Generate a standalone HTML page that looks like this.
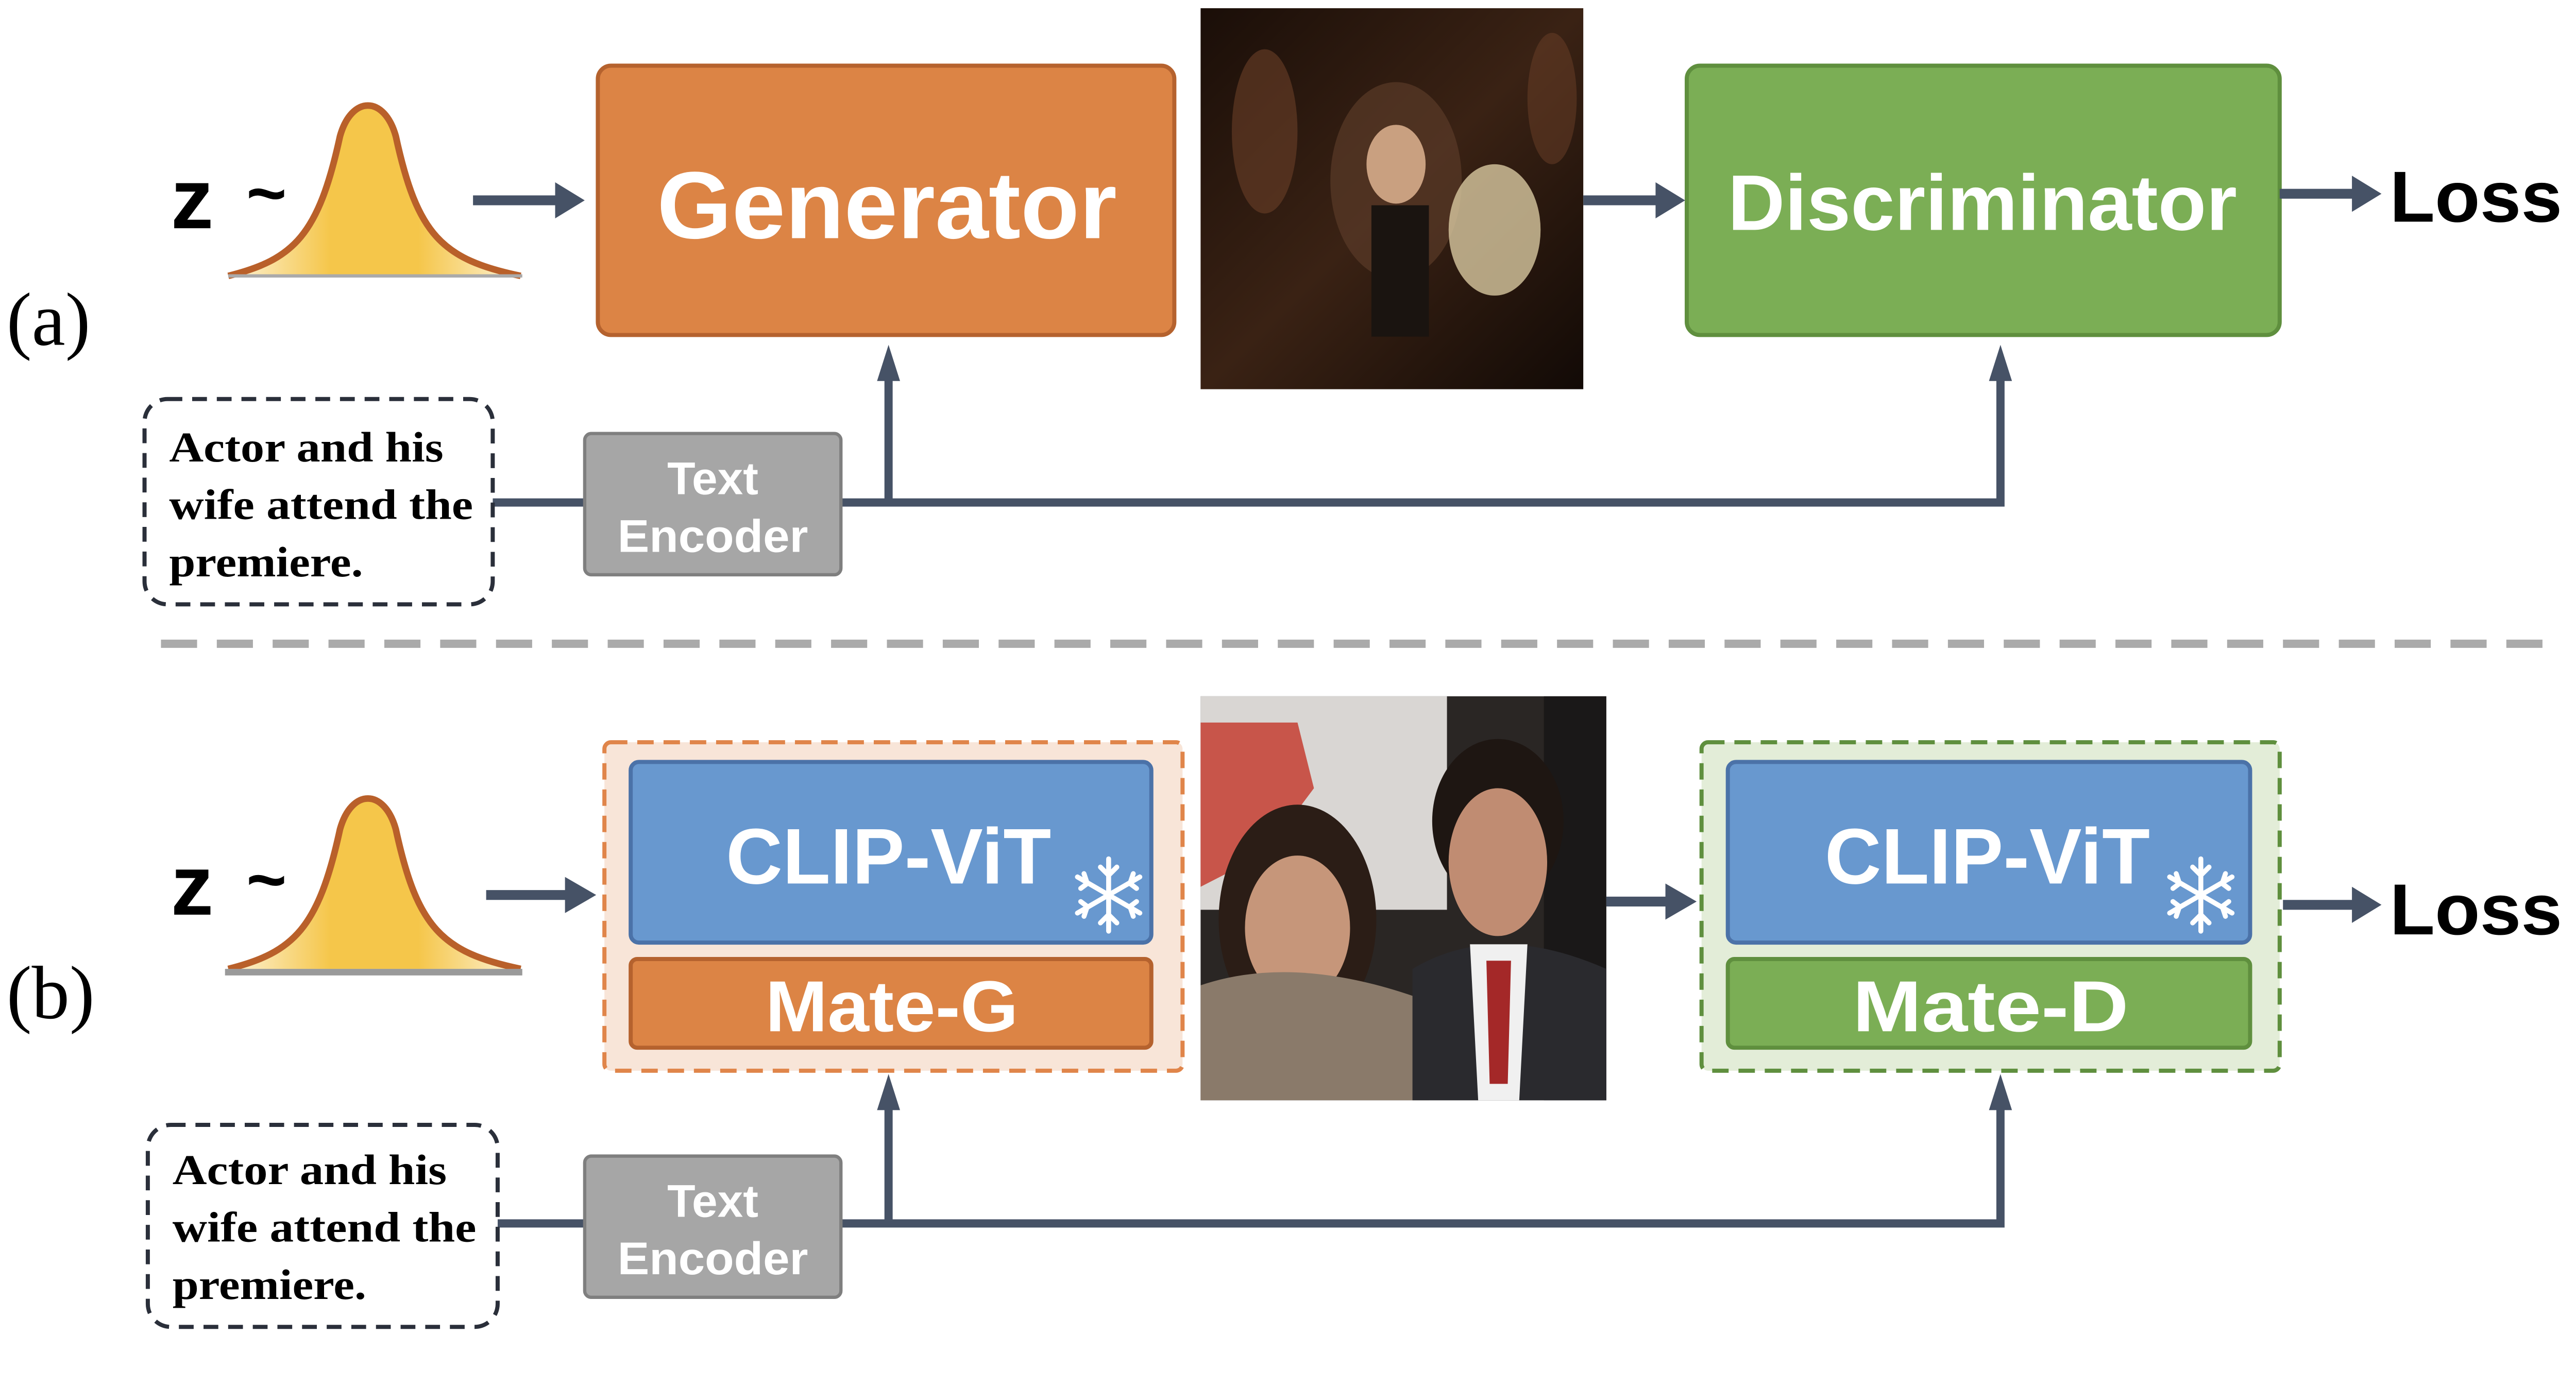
<!DOCTYPE html>
<html><head><meta charset="utf-8"><style>
html,body{margin:0;padding:0;background:#fff;}
svg{display:block;}
</style></head><body>
<svg width="5174" height="2691" viewBox="0 0 1623 844" preserveAspectRatio="none" xmlns="http://www.w3.org/2000/svg">
<defs>
<linearGradient id="bell" x1="0" x2="1" y1="0" y2="0">
<stop offset="0" stop-color="#fdf3d8"/><stop offset="0.35" stop-color="#f5c64a"/><stop offset="0.65" stop-color="#f5c64a"/><stop offset="1" stop-color="#fdf3d8"/>
</linearGradient>
<linearGradient id="darkimg" x1="0" y1="0" x2="1" y2="1">
<stop offset="0" stop-color="#1a0e08"/><stop offset="0.5" stop-color="#3a2214"/><stop offset="1" stop-color="#120a06"/>
</linearGradient>
<g id="bellg">
<path d="M0,105 C40,95 55,80 68,20 C75,-5 95,-5 102,20 C115,80 130,95 178,105 Z" fill="url(#bell)"/>
<path d="M0,105 C40,95 55,80 68,20 C75,-5 95,-5 102,20 C115,80 130,95 178,105" fill="none" stroke="#b9602a" stroke-width="4"/>
</g>
<g id="flake" stroke="#fff" stroke-width="3" fill="none" stroke-linecap="round">
<line x1="0" y1="-22" x2="0" y2="22"/><line x1="-19" y1="-11" x2="19" y2="11"/><line x1="-19" y1="11" x2="19" y2="-11"/>
<path d="M-5,-17 L0,-12 L5,-17 M-5,17 L0,12 L5,17 M-17,-4 L-13,-7 L-15,-13 M17,4 L13,7 L15,13 M-17,4 L-13,7 L-15,13 M17,-4 L13,-7 L15,-13"/>
</g>
</defs>

<g font-family="Liberation Sans, sans-serif" font-weight="bold">
<!-- (a) -->
<text x="4" y="210" font-family="Liberation Serif, serif" font-weight="normal" font-size="46">(a)</text>
<text x="104" y="139" font-size="52">z</text>
<text x="150" y="132" font-size="42">~</text>
<use href="#bellg" x="139" y="63"/>
<line x1="139" y1="168" x2="318" y2="168" stroke="#aaa" stroke-width="2"/>

<rect x="364" y="40" width="351" height="164" rx="8" fill="#dc8445" stroke="#b5622e" stroke-width="2.5"/>
<text x="400" y="145" font-size="58" fill="#fff" textLength="280" lengthAdjust="spacingAndGlyphs">Generator</text>

<rect x="731" y="5" width="233" height="232" fill="url(#darkimg)"/>
<ellipse cx="850" cy="110" rx="40" ry="60" fill="#5a3a28" opacity="0.7"/>
<ellipse cx="850" cy="100" rx="18" ry="24" fill="#c9a080"/>
<rect x="835" y="125" width="35" height="80" fill="#1a1410"/>
<ellipse cx="910" cy="140" rx="28" ry="40" fill="#d8c8a0" opacity="0.8"/>
<ellipse cx="770" cy="80" rx="20" ry="50" fill="#6b4028" opacity="0.6"/>
<ellipse cx="945" cy="60" rx="15" ry="40" fill="#6b4028" opacity="0.5"/>

<rect x="1027" y="40" width="361" height="164" rx="8" fill="#7bae55" stroke="#5f8f3e" stroke-width="2.5"/>
<text x="1052" y="140" font-size="48" fill="#fff" textLength="310" lengthAdjust="spacingAndGlyphs">Discriminator</text>
<text x="1455" y="135" font-size="44" textLength="105" lengthAdjust="spacingAndGlyphs">Loss</text>

<g fill="#465266" stroke="#465266">
<line x1="288" y1="122" x2="340" y2="122" stroke-width="6"/><path d="M338,111 L356,122 L338,133 Z" stroke="none"/>
<line x1="964" y1="122" x2="1010" y2="122" stroke-width="6"/><path d="M1008,111 L1026,122 L1008,133 Z" stroke="none"/>
<line x1="1388" y1="118" x2="1434" y2="118" stroke-width="6"/><path d="M1432,107 L1450,118 L1432,129 Z" stroke="none"/>
<line x1="300" y1="306" x2="356" y2="306" stroke-width="5"/>
<polyline points="512,306 1218,306 1218,228" fill="none" stroke-width="5"/>
<line x1="541" y1="306" x2="541" y2="226" stroke-width="5"/>
<path d="M534,232 L541,210 L548,232 Z" stroke="none"/>
<path d="M1211,232 L1218,210 L1225,232 Z" stroke="none"/>
</g>
<rect x="88" y="243" width="212" height="125" rx="14" fill="#fff" stroke="#2a2f3a" stroke-width="2.5" stroke-dasharray="9,6"/>
<g font-family="Liberation Serif, serif" font-size="26">
<text x="103" y="281" textLength="167" lengthAdjust="spacingAndGlyphs">Actor and his</text>
<text x="103" y="316" textLength="185" lengthAdjust="spacingAndGlyphs">wife attend the</text>
<text x="103" y="351" textLength="118" lengthAdjust="spacingAndGlyphs">premiere.</text>
</g>
<rect x="356" y="264" width="156" height="86" rx="4" fill="#a6a6a6" stroke="#7f7f7f" stroke-width="2"/>
<text x="434" y="301" font-size="28" fill="#fff" text-anchor="middle">Text</text>
<text x="376" y="336" font-size="28" fill="#fff" textLength="116" lengthAdjust="spacingAndGlyphs">Encoder</text>

<line x1="98" y1="392" x2="1558" y2="392" stroke="#aaaaaa" stroke-width="5" stroke-dasharray="22,12"/>

<!-- (b) -->
<text x="4" y="620" font-family="Liberation Serif, serif" font-weight="normal" font-size="46">(b)</text>
<text x="104" y="557" font-size="52">z</text>
<text x="150" y="550" font-size="42">~</text>
<use href="#bellg" x="139" y="485"/>
<line x1="137" y1="592" x2="318" y2="592" stroke="#9a9a9a" stroke-width="4"/>

<rect x="368" y="452" width="352" height="200" rx="4" fill="#f8e5d8" stroke="#e0854a" stroke-width="2.5" stroke-dasharray="10,6"/>
<rect x="384" y="464" width="317" height="110" rx="5" fill="#6898cf" stroke="#4b72a8" stroke-width="2.5"/>
<text x="442" y="538" font-size="48" fill="#fff" textLength="198" lengthAdjust="spacingAndGlyphs">CLIP-ViT</text>
<use href="#flake" x="675" y="545"/>
<rect x="384" y="584" width="317" height="54" rx="4" fill="#dc8445" stroke="#b5622e" stroke-width="2.5"/>
<text x="466" y="628" font-size="44" fill="#fff" textLength="154" lengthAdjust="spacingAndGlyphs">Mate-G</text>

<rect x="731" y="424" width="247" height="246" fill="#2a2624"/>
<rect x="731" y="424" width="150" height="130" fill="#d9d6d3"/>
<path d="M731,440 L790,440 L800,480 L770,520 L731,540 Z" fill="#c8554a"/>
<rect x="940" y="424" width="38" height="246" fill="#1a1818"/>
<ellipse cx="790" cy="560" rx="48" ry="70" fill="#2b1d16"/>
<ellipse cx="790" cy="565" rx="32" ry="44" fill="#c6967a"/>
<path d="M731,600 Q790,580 870,610 L870,670 L731,670 Z" fill="#8a7a6a"/>
<ellipse cx="912" cy="500" rx="40" ry="50" fill="#1e1612"/>
<ellipse cx="912" cy="525" rx="30" ry="45" fill="#c08c72"/>
<path d="M860,590 Q910,560 978,590 L978,670 L860,670 Z" fill="#2a2a2e"/>
<path d="M895,575 L930,575 L925,670 L900,670 Z" fill="#f0f0f0"/>
<path d="M905,585 L920,585 L918,660 L907,660 Z" fill="#a42828"/>

<rect x="1036" y="452" width="352" height="200" rx="4" fill="#e3edd8" stroke="#5f8f3e" stroke-width="2.5" stroke-dasharray="10,6"/>
<rect x="1052" y="464" width="318" height="110" rx="5" fill="#6898cf" stroke="#4b72a8" stroke-width="2.5"/>
<text x="1111" y="538" font-size="48" fill="#fff" textLength="198" lengthAdjust="spacingAndGlyphs">CLIP-ViT</text>
<use href="#flake" x="1340" y="545"/>
<rect x="1052" y="584" width="318" height="54" rx="4" fill="#7bae55" stroke="#5f8f3e" stroke-width="2.5"/>
<text x="1128" y="628" font-size="44" fill="#fff" textLength="168" lengthAdjust="spacingAndGlyphs">Mate-D</text>
<text x="1455" y="569" font-size="44" textLength="105" lengthAdjust="spacingAndGlyphs">Loss</text>

<g fill="#465266" stroke="#465266">
<line x1="296" y1="545" x2="346" y2="545" stroke-width="6"/><path d="M344,534 L363,545 L344,556 Z" stroke="none"/>
<line x1="978" y1="549" x2="1016" y2="549" stroke-width="6"/><path d="M1014,538 L1033,549 L1014,560 Z" stroke="none"/>
<line x1="1390" y1="551" x2="1434" y2="551" stroke-width="6"/><path d="M1432,540 L1450,551 L1432,562 Z" stroke="none"/>
<line x1="303" y1="745" x2="356" y2="745" stroke-width="5"/>
<polyline points="512,745 1218,745 1218,672" fill="none" stroke-width="5"/>
<line x1="541" y1="745" x2="541" y2="672" stroke-width="5"/>
<path d="M534,676 L541,654 L548,676 Z" stroke="none"/>
<path d="M1211,676 L1218,654 L1225,676 Z" stroke="none"/>
</g>
<rect x="90" y="685" width="213" height="123" rx="14" fill="#fff" stroke="#2a2f3a" stroke-width="2.5" stroke-dasharray="9,6"/>
<g font-family="Liberation Serif, serif" font-size="26">
<text x="105" y="721" textLength="167" lengthAdjust="spacingAndGlyphs">Actor and his</text>
<text x="105" y="756" textLength="185" lengthAdjust="spacingAndGlyphs">wife attend the</text>
<text x="105" y="791" textLength="118" lengthAdjust="spacingAndGlyphs">premiere.</text>
</g>
<rect x="356" y="704" width="156" height="86" rx="4" fill="#a6a6a6" stroke="#7f7f7f" stroke-width="2"/>
<text x="434" y="741" font-size="28" fill="#fff" text-anchor="middle">Text</text>
<text x="376" y="776" font-size="28" fill="#fff" textLength="116" lengthAdjust="spacingAndGlyphs">Encoder</text>
</g>
</svg>
</body></html>
